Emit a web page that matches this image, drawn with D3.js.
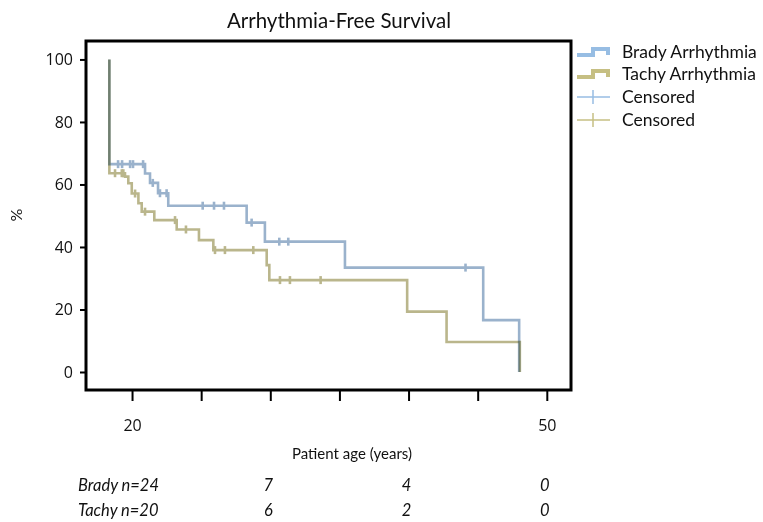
<!DOCTYPE html>
<html>
<head>
<meta charset="utf-8">
<script src="https://cdn.jsdelivr.net/npm/d3@7"></script>
<style>
  body { margin: 0; background: #fff; }
  text { font-family: Lato, 'Open Sans', sans-serif; fill: #111; }
</style>
</head>
<body>
<div id="chart"></div>
<script>
// step times (years) and survival (%)
var bradyTimes = [18.36, 18.36, 20.94, 21.30, 21.88, 22.62, 28.29, 29.61, 35.40, 45.40, 48.00];
var bradySurv  = [100,   66.5,  63.5,  60.5,  57.2,  53.2,  47.8,  41.7,  33.4,  16.6,  0];
var bradyCensor = [18.99, 19.28, 19.86, 20.07, 20.80, 21.50, 22.02, 22.50, 25.11, 25.93, 26.65, 28.65, 30.65, 31.30, 44.12];

var tachyTimes = [18.36, 18.36, 19.49, 19.73, 19.98, 20.46, 20.70, 21.61, 23.23, 24.84, 25.88, 29.74, 29.93, 39.90, 42.75, 48.05];
var tachySurv  = [100,   63.6,  62.5,  60.4,  57.1,  54.0,  51.3,  48.6,  45.6,  42.2,  39.0,  34.2,  29.4,  19.3,  9.6,   0];
var tachyCensor = [18.77, 19.26, 19.37, 20.22, 20.94, 23.11, 23.90, 26.00, 26.72, 28.77, 30.70, 31.42, 33.64];

var yTicks = [0, 20, 40, 60, 80, 100];
var xTicks = [20, 25, 30, 35, 40, 45, 50];
var xLabels = [20, 50];

var legendNames = ['Brady Arrhythmia', 'Tachy Arrhythmia', 'Censored', 'Censored'];
var riskRows = ['Brady n=24', 'Tachy n=20'];
var riskAges = [30, 40, 50];
var bradyRisk = [7, 4, 0];
var tachyRisk = [6, 2, 0];

var blue = '#9ab2cc', olive = '#bab68c';
var blueLeg = '#97bde3', oliveLeg = '#c6bf83';

var margin = {top: 41, right: 192, bottom: 132, left: 86},
    width = 763 - margin.left - margin.right,
    height = 522 - margin.top - margin.bottom;

var svg = d3.select('#chart').append('svg')
    .attr('width', 763)
    .attr('height', 522);

var wrapper = svg.append('g')
    .attr('transform', 'translate(' + margin.left + ',' + margin.top + ')');

var xScale = d3.scaleLinear().domain([16.67, 51.75]).range([0, width]),
    yScale = d3.scaleLinear().domain([-5.76, 105.9]).range([height, 0]);

// axes
var yAxis = wrapper.append('g')
    .call(d3.axisLeft(yScale).tickValues(yTicks).tickSize(6).tickPadding(7));
yAxis.select('.domain').remove();
yAxis.selectAll('.tick line').attr('stroke', '#000').attr('stroke-width', 2);

var xAxis = wrapper.append('g')
    .attr('transform', 'translate(0,' + height + ')')
    .call(d3.axisBottom(xScale).tickValues(xTicks).tickSize(11).tickPadding(19)
      .tickFormat(function(d) { return xLabels.indexOf(d) >= 0 ? d : ''; }));
xAxis.select('.domain').remove();
xAxis.selectAll('.tick line').attr('stroke', '#000').attr('stroke-width', 2);

wrapper.selectAll('.tick text')
    .style('font-family', "'Open Sans', sans-serif")
    .style('font-size', '16px')
    .style('fill', '#111');

// curves
function stepLine(times, surv) {
  var pts = times.map(function(t, i) { return [t, surv[i]]; });
  return d3.line()
      .x(function(d) { return xScale(d[0]); })
      .y(function(d) { return yScale(d[1]); })
      .curve(d3.curveStepAfter)(pts);
}

function survAt(times, surv, t) {
  var v = surv[0];
  for (var i = 0; i < times.length; i++) { if (times[i] <= t) v = surv[i]; }
  return v;
}

wrapper.append('path')
    .attr('d', stepLine(bradyTimes, bradySurv))
    .attr('fill', 'none')
    .attr('stroke', blue)
    .attr('stroke-width', 2.6);

wrapper.append('path')
    .attr('d', stepLine(tachyTimes, tachySurv))
    .attr('fill', 'none')
    .attr('stroke', olive)
    .attr('stroke-width', 2.6)
    .style('mix-blend-mode', 'multiply');

function censorMarks(list, times, surv, colour) {
  wrapper.append('g').selectAll('line')
      .data(list)
    .enter().append('line')
      .attr('x1', function(d) { return xScale(d); })
      .attr('x2', function(d) { return xScale(d); })
      .attr('y1', function(d) { return yScale(survAt(times, surv, d)) - 4; })
      .attr('y2', function(d) { return yScale(survAt(times, surv, d)) + 4; })
      .attr('stroke', colour)
      .attr('stroke-width', 2.6);
}
censorMarks(bradyCensor, bradyTimes, bradySurv, blue);
censorMarks(tachyCensor, tachyTimes, tachySurv, olive);

// frame
wrapper.append('rect')
    .attr('width', width)
    .attr('height', height)
    .attr('fill', 'none')
    .attr('stroke', '#000')
    .attr('stroke-width', 3);

// titles
svg.append('text')
    .attr('x', 339)
    .attr('y', 28)
    .style('font-size', '20.5px')
    .style('text-anchor', 'middle')
    .text('Arrhythmia-Free Survival');

svg.append('text')
    .attr('x', 352)
    .attr('y', 459)
    .style('font-size', '15px')
    .style('text-anchor', 'middle')
    .text('Patient age (years)');

svg.append('text')
    .attr('transform', 'translate(22,215) rotate(-90)')
    .style('font-size', '16px')
    .style('text-anchor', 'middle')
    .text('%');

// legend
var legend = svg.selectAll('.legend')
    .data(legendNames)
  .enter().append('g')
    .attr('class', 'legend')
    .attr('transform', function(d, i) { return 'translate(577,' + [52, 74, 97, 120][i] + ')'; });

legend.each(function(d, i) {
  var g = d3.select(this);
  var c = (i % 2 === 0) ? blueLeg : oliveLeg;
  if (i < 2) {
    g.append('path')
        .attr('d', 'M0,3H16V-3H31V3')
        .attr('fill', 'none')
        .attr('stroke', c)
        .attr('stroke-width', 4);
  } else {
    g.append('line').attr('x1', 0).attr('x2', 33).attr('y1', 0).attr('y2', 0)
        .attr('stroke', c).attr('stroke-width', 1.5);
    g.append('line').attr('x1', 16).attr('x2', 16).attr('y1', -7).attr('y2', 7)
        .attr('stroke', c).attr('stroke-width', 1.5);
  }
});

legend.append('text')
    .attr('x', 45)
    .attr('dy', '.35em')
    .style('font-size', '17.5px')
    .text(function(d) { return d; });

// numbers at risk
var riskData = [bradyRisk, tachyRisk];
riskRows.forEach(function(label, r) {
  var yPos = 491 + r * 25;
  svg.append('text')
      .attr('x', 78)
      .attr('y', yPos)
      .style('font-size', '16.5px')
      .style('font-style', 'italic')
      .text(label);
  riskData[r].forEach(function(v, k) {
    svg.append('text')
        .attr('x', margin.left + xScale(riskAges[k]) - 2)
        .attr('y', yPos)
        .style('font-size', '16.5px')
        .style('font-style', 'italic')
        .style('text-anchor', 'middle')
        .text(v);
  });
});
</script>
</body>
</html>
